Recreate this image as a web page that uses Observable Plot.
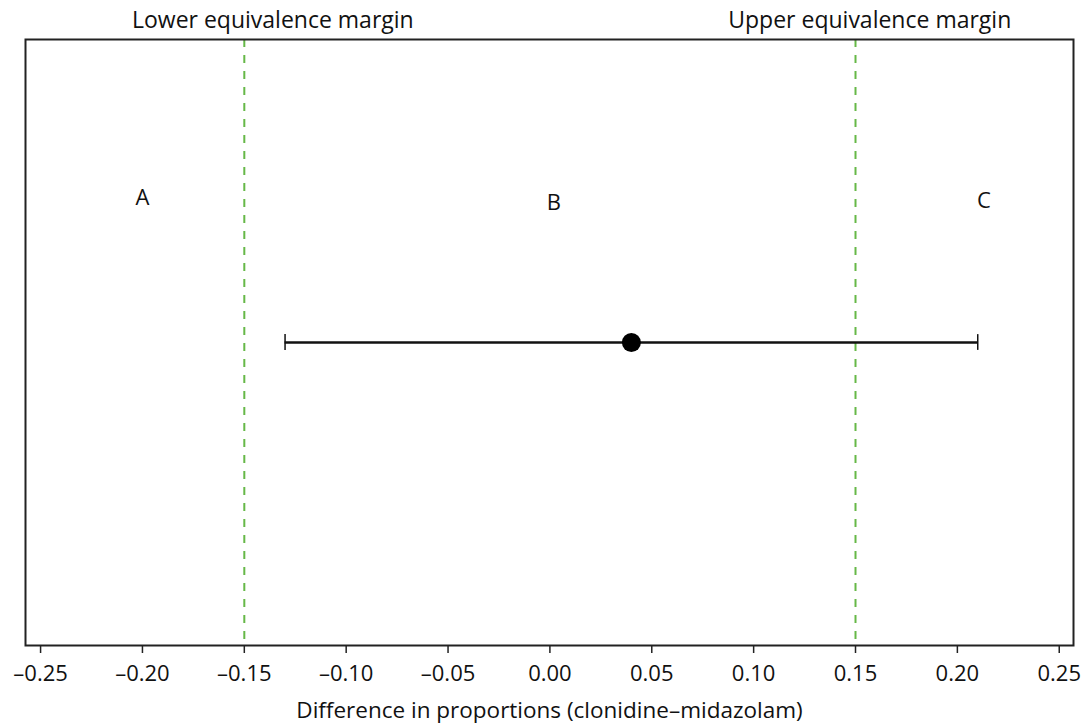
<!DOCTYPE html>
<html>
<head>
<meta charset="utf-8">
<script src="https://cdn.jsdelivr.net/npm/d3@7"></script>
<script src="https://cdn.jsdelivr.net/npm/@observablehq/plot@0.6"></script>
<style>
  html, body { margin: 0; padding: 0; background: #fff; }
  #chart { width: 1086px; height: 727px; }
</style>
</head>
<body>
<div id="chart"></div>
<script>
// Data
const xTicks = [-0.25, -0.20, -0.15, -0.10, -0.05, 0.00, 0.05, 0.10, 0.15, 0.20, 0.25];
const marginValues = [-0.15, 0.15];
const marginLabels = ["Lower equivalence margin", "Upper equivalence margin"];
const marginLabelX = [-0.136, 0.157];
const estimate = 0.04;
const ciLower = -0.13;
const ciUpper = 0.21;
const estimateY = 0.5;
const regionLabels = ["A", "B", "C"];
const regionX = [-0.20, 0.002, 0.213];
const regionY = [0.738, 0.731, 0.734];
const xLabel = "Difference in proportions (clonidine\u2013midazolam)";

const font = "'Open Sans', 'Noto Sans', sans-serif";
const green = "#66b847";
const capHalf = 0.013;
const topLabelY = 1.031;

const est = [{x: estimate, lo: ciLower, hi: ciUpper, y: estimateY}];
const caps = [ciLower, ciUpper].map(v => ({x: v, y: estimateY}));
const regions = regionLabels.map((t, i) => ({t, x: regionX[i], y: regionY[i]}));
const mLabels = marginLabels.map((t, i) => ({t, x: marginLabelX[i], y: topLabelY}));

const fmt = v => d3.format(".2f")(v).replace("\u2212", "\u2013").replace("-", "\u2013");

const chart = Plot.plot({
  width: 1086,
  height: 727,
  marginLeft: 25,
  marginRight: 13,
  marginTop: 39,
  marginBottom: 82,
  style: {fontFamily: font, fontSize: "22px", color: "#111", background: "#fff", overflow: "visible"},
  x: {domain: [-0.2574, 0.2570]},
  y: {domain: [0, 1], axis: null},
  marks: [
    Plot.ruleX(marginValues, {stroke: green, strokeWidth: 2, strokeDasharray: "8,8"}),
    Plot.ruleY(est, {x1: "lo", x2: "hi", y: "y", stroke: "#111", strokeWidth: 2.5}),
    Plot.ruleX(caps, {x: "x", y1: d => d.y - capHalf, y2: d => d.y + capHalf, stroke: "#111", strokeWidth: 1.5}),
    Plot.dot(est, {x: "x", y: "y", r: 9.5, fill: "#000", stroke: "none"}),
    Plot.text(regions, {x: "x", y: "y", text: "t", fontSize: 22, fill: "#111"}),
    Plot.text(mLabels, {x: "x", y: "y", text: "t", fontSize: 23, fill: "#111"}),
    Plot.frame({stroke: "#222", strokeWidth: 2}),
    Plot.axisX({ticks: xTicks, tickFormat: fmt, tickSize: 8, tickPadding: 12, fontSize: 22, label: null, strokeWidth: 1.5, stroke: "#222", fill: "#111"}),
    Plot.text([xLabel], {frameAnchor: "bottom", dy: 72, fontSize: 22.5, fill: "#111"})
  ]
});
document.getElementById("chart").appendChild(chart);
</script>
</body>
</html>
